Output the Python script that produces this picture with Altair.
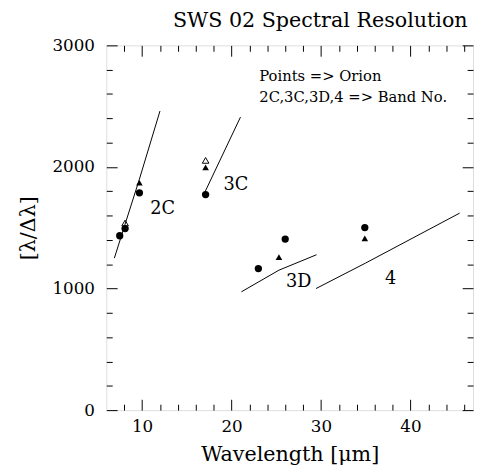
import altair as alt
import pandas as pd

# ---- data ----
circ_x = [7.5, 8.1, 9.7, 17.1, 23.0, 26.0, 34.9]
circ_y = [1434, 1493, 1787, 1773, 1164, 1407, 1501]
tri_x = [9.7, 17.1, 25.3, 34.9]
tri_y = [1870, 1997, 1259, 1413]
otri_x = [8.1, 17.1]
otri_y = [1539, 2054]

band_names = ["2C", "2C", "2C", "2C", "3C", "3C", "3D", "3D", "3D", "4", "4", "4"]
band_x = [6.9, 8.1, 9.7, 12.0, 17.0, 21.0, 21.1, 25.3, 29.5, 29.45, 35.0, 45.5]
band_y = [1250, 1530, 1900, 2460, 1790, 2410, 973, 1151, 1278, 1000, 1210, 1620]

lab_text = ["2C", "3C", "3D", "4"]
lab_x = [12.3, 20.5, 27.5, 37.8]
lab_y = [1655, 1849, 1054, 1081]

note_text = ["Points => Orion", "2C,3C,3D,4 => Band No."]
note_x = [23.1, 23.1]
note_y = [2749, 2571]

x_major = [10, 20, 30, 40]
x_minor = [v for v in range(8, 47, 2) if v % 10 != 0]
y_major = [0, 1000, 2000, 3000]
y_minor = [v for v in range(200, 3000, 200) if v % 1000 != 0]

W, H = 373, 371
FONT = "DejaVu Serif"

xs = alt.Scale(domain=[6, 47], nice=False, zero=False)
ys = alt.Scale(domain=[0, 3000], nice=False, zero=False)

circles = pd.DataFrame({"x": circ_x, "y": circ_y})
tris = pd.DataFrame({"x": tri_x, "y": tri_y})
otris = pd.DataFrame({"x": otri_x, "y": otri_y})
bands = pd.DataFrame({"band": band_names, "x": band_x, "y": band_y,
                      "o": list(range(len(band_x)))})
labels = pd.DataFrame({"t": lab_text, "x": lab_x, "y": lab_y})
notes = pd.DataFrame({"t": note_text, "x": note_x, "y": note_y})


def tick_axis(orient, values, size, offset):
    return alt.Axis(orient=orient, values=values, tickSize=size, offset=offset,
                    labels=False, domain=False, grid=False, title=None,
                    ticks=True, tickColor="black", tickWidth=1)


# layer A: circles + labelled axes
A = alt.Chart(circles).mark_point(shape="circle", filled=True, color="black",
                                  size=55, opacity=1).encode(
    x=alt.X("x:Q", scale=xs,
            axis=alt.Axis(orient="bottom", values=x_major, ticks=False, domain=False,
                          grid=False, labelPadding=9, labelFontSize=17, format="d",
                          labelFont=FONT, title="Wavelength [μm]",
                          titleFont=FONT, titleFontSize=21, titleFontWeight="normal",
                          titlePadding=9, labelColor="black", titleColor="black")),
    y=alt.Y("y:Q", scale=ys,
            axis=alt.Axis(orient="left", values=y_major, ticks=False, domain=False,
                          grid=False, labelPadding=12, labelFontSize=17, format="d",
                          labelFont=FONT, title="[λ/Δλ]",
                          titleFont=FONT, titleFontSize=21, titleFontWeight="normal",
                          titlePadding=14, labelColor="black", titleColor="black")),
)

# layer B: filled triangles + inward minor ticks (bottom, left)
B = alt.Chart(tris).mark_point(shape="triangle-up", filled=True, color="black",
                               size=45, opacity=1).encode(
    x=alt.X("x:Q", scale=xs, axis=tick_axis("top", x_minor, 6, -H)),
    y=alt.Y("y:Q", scale=ys, axis=tick_axis("right", y_minor, 6, -W)),
)

# layer C: open triangles + inward major ticks (bottom, left)
C = alt.Chart(otris).mark_point(shape="triangle-up", filled=False, color="black",
                                size=45, opacity=1, strokeWidth=1).encode(
    x=alt.X("x:Q", scale=xs, axis=tick_axis("top", x_major, 11, -H)),
    y=alt.Y("y:Q", scale=ys, axis=tick_axis("right", y_major, 11, -W)),
)

# layer D: band lines + inward minor ticks (top, right)
D = alt.Chart(bands).mark_line(color="black", strokeWidth=1).encode(
    x=alt.X("x:Q", scale=xs, axis=tick_axis("bottom", x_minor, 6, -H)),
    y=alt.Y("y:Q", scale=ys, axis=tick_axis("left", y_minor, 6, -W)),
    detail="band:N",
    order="o:Q",
)

# layer E: band labels + inward major ticks (top, right)
E = alt.Chart(labels).mark_text(font=FONT, fontSize=18, color="black",
                                align="center", baseline="middle").encode(
    x=alt.X("x:Q", scale=xs, axis=tick_axis("bottom", x_major, 11, -H)),
    y=alt.Y("y:Q", scale=ys, axis=tick_axis("left", y_major, 11, -W)),
    text="t:N",
)

# layer F: annotation text
F = alt.Chart(notes).mark_text(font=FONT, fontSize=15, color="black",
                               align="left", baseline="middle").encode(
    x=alt.X("x:Q", scale=xs, axis=None),
    y=alt.Y("y:Q", scale=ys, axis=None),
    text="t:N",
)

chart = alt.layer(A, B, C, D, E, F).resolve_axis(
    x="independent", y="independent"
).properties(
    width=W, height=H,
    autosize=alt.AutoSizeParams(type="none"),
    padding={"left": 100, "top": 34, "right": 2, "bottom": 63},
    title=alt.TitleParams("SWS 02 Spectral Resolution", anchor="end", font=FONT,
                          fontSize=21, fontWeight="normal", color="black",
                          offset=6, dx=-6),
).configure_view(stroke="black", strokeWidth=1).configure(background="white")

chart.save("out.html", embed_options={"renderer": "svg", "actions": False})
